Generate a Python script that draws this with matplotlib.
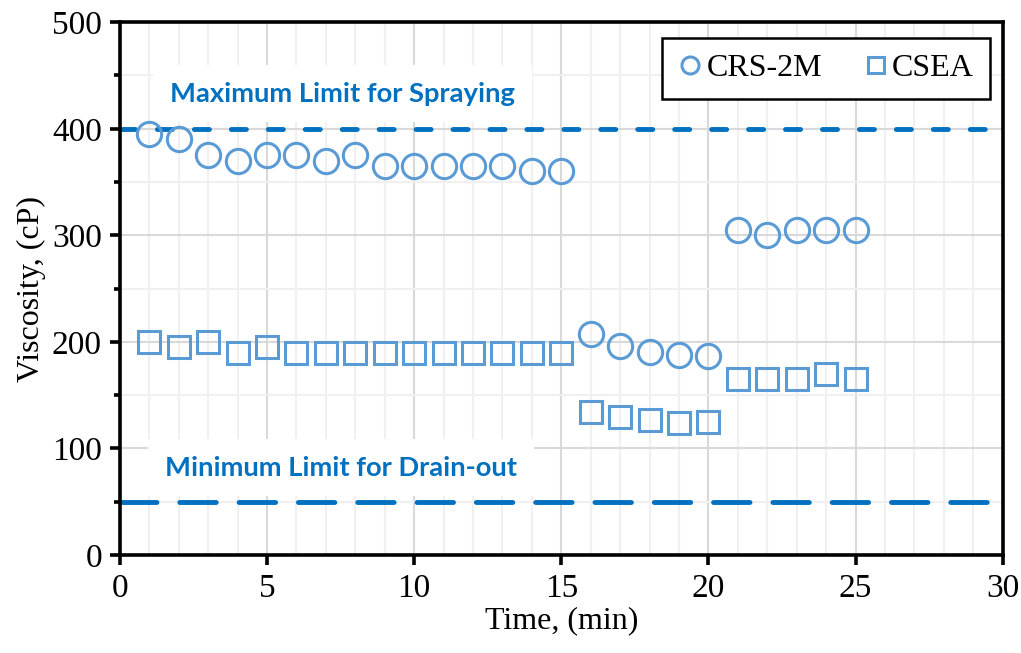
import numpy as np
import matplotlib.pyplot as plt
from matplotlib.ticker import MultipleLocator

# time (min)
time = [1, 2, 3, 4, 5, 6, 7, 8, 9, 10, 11, 12, 13, 14, 15,
        16, 17, 18, 19, 20, 21, 22, 23, 24, 25]
# viscosity (cP)
crs_2m = [395, 390, 375, 370, 375, 375, 370, 375, 365, 365, 365, 365, 365, 360, 360,
          207, 196, 191, 188, 187, 305, 300, 305, 305, 305]
csea = [200, 195, 200, 190, 195, 190, 190, 190, 190, 190, 190, 190, 190, 190, 190,
        134, 130, 127, 124, 125, 165, 165, 165, 170, 165]

max_limit = 400
min_limit = 50
max_label = "Maximum Limit for Spraying"
min_label = "Minimum Limit for Drain-out"

marker_col = '#5B9BD5'
limit_col = '#0070C0'

plt.rcParams['font.family'] = ['Liberation Serif', 'DejaVu Serif']

fig = plt.figure(figsize=(10.21, 6.53), dpi=100)
ax = fig.add_axes([0.1175, 0.150, 0.8645, 0.816])

# grid
ax.xaxis.set_major_locator(MultipleLocator(5))
ax.xaxis.set_minor_locator(MultipleLocator(1))
ax.yaxis.set_major_locator(MultipleLocator(100))
ax.yaxis.set_minor_locator(MultipleLocator(50))
ax.grid(which='major', color='#D9D9D9', lw=1.5, zorder=0)
ax.grid(which='minor', color='#F0F0F0', lw=1.5, zorder=0)
ax.set_axisbelow(True)

# limit lines
ax.axhline(max_limit, color=limit_col, lw=3.5, dashes=(3.1, 4.5), dash_capstyle='round', zorder=2)
ax.axhline(min_limit, color=limit_col, lw=3.5, dashes=(7.5, 4.7), dash_capstyle='round', zorder=2)

box = dict(facecolor='white', edgecolor='none', pad=12)
ax.text(1.7, 433, max_label, ha='left', va='center', color=limit_col, fontsize=19.7,
        fontweight='bold', family=['Lato', 'DejaVu Sans'], bbox=box, zorder=1.5)
ax.text(1.53, 82, min_label, ha='left', va='center', color=limit_col, fontsize=19.7,
        fontweight='bold', family=['Lato', 'DejaVu Sans'], bbox=box, zorder=1.5)

# data
ax.plot(time, crs_2m, ls='none', marker='o', ms=17.5, mfc='none', mec=marker_col, mew=2.2,
        label='CRS-2M', zorder=3)
ax.plot(time, csea, ls='none', marker='s', ms=16, mfc='none', mec=marker_col, mew=2.2,
        label='CSEA', zorder=3)

ax.set_xlim(0, 30)
ax.set_ylim(0, 500)

for s in ax.spines.values():
    s.set_linewidth(2.6)
    s.set_color('black')
ax.tick_params(which='major', direction='out', length=7, width=2.6, labelsize=24, pad=6)
ax.tick_params(axis='y', which='minor', direction='out', length=4, width=2.6)
ax.tick_params(axis='x', which='minor', length=0)

ax.set_xlabel('Time, (min)', fontsize=23, labelpad=2)
ax.set_ylabel('Viscosity, (cP)', fontsize=23, labelpad=4)

leg = ax.legend(loc='upper right', bbox_to_anchor=(0.993, 0.983), ncol=2, fontsize=23,
                frameon=True, fancybox=False, edgecolor='black', framealpha=1,
                handlelength=0.8, handletextpad=0.1, columnspacing=1.3,
                borderpad=0.5, borderaxespad=0.2, markerscale=0.7)
leg.get_frame().set_linewidth(1.8)

fig.savefig('out.png', dpi=100)
